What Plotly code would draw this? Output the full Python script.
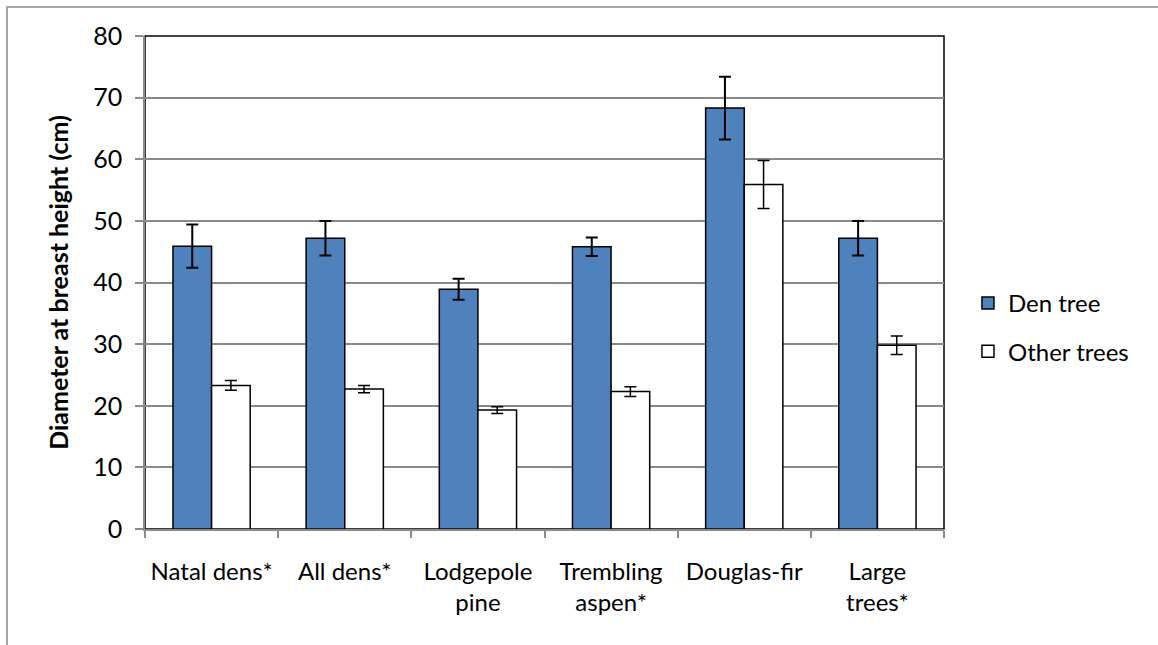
import plotly.graph_objects as go

# Mean diameter at breast height by group, with standard errors
categories = ["Natal dens*", "All dens*", "Lodgepole<br>pine", "Trembling<br>aspen*",
              "Douglas-fir", "Large<br>trees*"]
den_tree = [45.9, 47.2, 38.9, 45.8, 68.3, 47.2]
den_tree_err = [3.5, 2.8, 1.7, 1.5, 5.1, 2.8]
other_trees = [23.3, 22.7, 19.3, 22.3, 55.9, 29.8]
other_trees_err = [0.8, 0.6, 0.55, 0.8, 3.9, 1.5]
y_ticks = [0, 10, 20, 30, 40, 50, 60, 70, 80]

FONT = "Lato, Carlito, 'Open Sans', sans-serif"
GRID = "#8a8a8a"

fig = go.Figure()
fig.add_trace(go.Bar(
    name="Den tree", x=categories, y=den_tree, legendgroup="a",
    marker=dict(color="#4F81BD", line=dict(color="black", width=1.5)),
    error_y=dict(type="data", array=den_tree_err, color="black", thickness=2, width=6),
))
fig.add_trace(go.Bar(
    name="Other trees", x=categories, y=other_trees, legendgroup="b",
    marker=dict(color="white", line=dict(color="black", width=1.5)),
    error_y=dict(type="data", array=other_trees_err, color="black", thickness=1.5, width=6),
))

fig.update_layout(
    width=1158, height=645,
    margin=dict(l=145, r=214, t=36, b=116),
    paper_bgcolor="white", plot_bgcolor="white",
    font=dict(family=FONT, size=24, color="black"),
    barmode="group", bargap=0.42, bargroupgap=0,
    showlegend=True,
    legend=dict(x=1.03, y=0.409, xanchor="left", yanchor="middle",
                font=dict(size=24), traceorder="grouped", tracegroupgap=14,
                bgcolor="rgba(0,0,0,0)"),
    xaxis=dict(
        showline=True, linecolor=GRID, linewidth=1.5,
        ticks="outside", tickson="boundaries", ticklen=7, tickcolor=GRID, tickwidth=1.5,
        tickfont=dict(size=24), showgrid=False, ticklabelstandoff=20,
    ),
    yaxis=dict(
        range=[0, 80], tickvals=y_ticks, showline=True, linecolor=GRID, linewidth=1.5,
        ticks="outside", ticklen=8, tickcolor=GRID, tickwidth=1.5,
        showgrid=True, gridcolor=GRID, gridwidth=1.5, zeroline=False,
        tickfont=dict(size=25), ticklabelstandoff=8,
        title=dict(text="<b>Diameter at breast height (cm)</b>", font=dict(size=25), standoff=17),
    ),
    shapes=[
        # plot-area frame
        dict(type="rect", xref="paper", yref="paper", x0=0, x1=1, y0=0, y1=1,
             line=dict(color="black", width=1.5), layer="below"),
        # outer chart frame
        dict(type="rect", xref="paper", yref="paper",
             x0=-138 / 799, x1=1.3, y0=-0.3, y1=1 + 29 / 493,
             line=dict(color="#8c8c8c", width=1.5), layer="below"),
    ],
)

fig.write_html("out.html")
